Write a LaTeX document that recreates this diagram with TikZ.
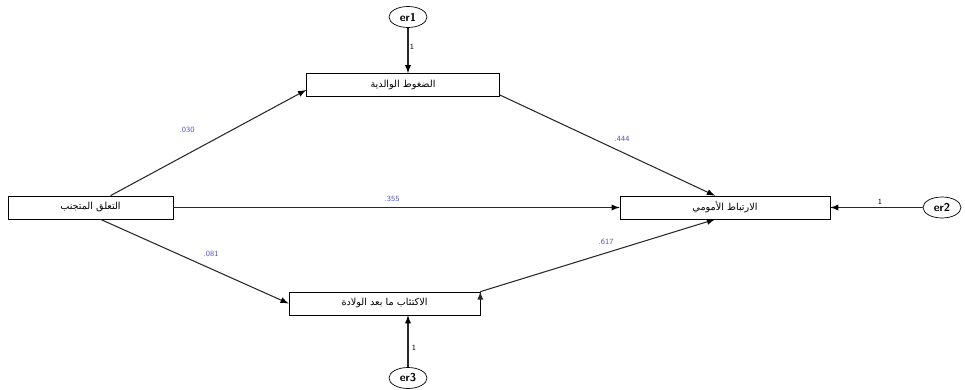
\documentclass[tikz,border=0pt]{standalone}
\usepackage{fontspec}
\usepackage{tikz}
\usetikzlibrary{arrows,shapes,positioning,calc}
\TeXXeTstate=1
\newfontfamily\arabicfont[Script=Arabic]{DejaVu Sans}
\definecolor{coefblue}{RGB}{80,80,200}
\definecolor{linegray}{RGB}{40,40,40}

\begin{document}
\begin{tikzpicture}[
  mybox/.style={draw,rectangle,minimum height=0.46cm,inner sep=1pt,
    font=\arabicfont\fontsize{5.5}{6}\selectfont},
  myerr/.style={draw,ellipse,minimum width=0.76cm,minimum height=0.42cm,inner sep=0pt,
    font=\sffamily\bfseries\fontsize{6.5}{7}\selectfont},
  mycoef/.style={text=coefblue,font=\sffamily\fontsize{4.5}{5}\selectfont,inner sep=1pt},
  myone/.style={font=\sffamily\fontsize{4.5}{5}\selectfont,inner sep=1pt}
]
\useasboundingbox (0,0) rectangle (19.3,7.78);

\node[mybox,minimum width=3.86cm] at (8.06,6.08) (TB) {\beginR الضغوط الوالدية\endR};
\node[mybox,minimum width=3.3cm] at (1.81,3.63) (LB) {\beginR التعلق المتجنب\endR};
\node[mybox,minimum width=4.2cm] at (14.5,3.63) (RB) {\beginR الارتباط الأمومي\endR};
\node[mybox,minimum width=3.82cm] at (7.69,1.71) (BB) {\beginR الاكتئاب ما بعد الولادة\endR};

\node[myerr] at (8.16,7.44) (er1) {er1};
\node[myerr] at (18.84,3.63) (er2) {er2};
\node[myerr] at (8.16,0.22) (er3) {er3};

 \path[semithick,draw=linegray,-latex]
([xshift=4mm]LB.north) edge ([yshift=-1mm]TB.west)
(LB.east) edge (RB.west)
([xshift=2mm]LB.south) edge (BB.west)
([yshift=-2mm]TB.east) edge ([xshift=-2mm]RB.north)
(BB.north east) edge ([xshift=-2mm]RB.south);

\path[semithick,draw=linegray,-latex]
(er1) edge (er1 |- TB.north)
(er2) edge (RB.east)
(er3) edge (er3 |- BB.south);

\node[mycoef] at (3.74,5.18) (c1) {.030};
\node[mycoef] at (12.44,5.0) (c2) {.444};
\node[mycoef] at (7.84,3.8) (c3) {.355};
\node[mycoef] at (4.22,2.7) (c4) {.081};
\node[mycoef] at (12.12,2.94) (c5) {.617};

\node[myone] at (8.24,6.84) (o1) {1};
\node[myone] at (17.6,3.74) (o2) {1};
\node[myone] at (8.28,0.82) (o3) {1};

\end{tikzpicture}
\end{document}
